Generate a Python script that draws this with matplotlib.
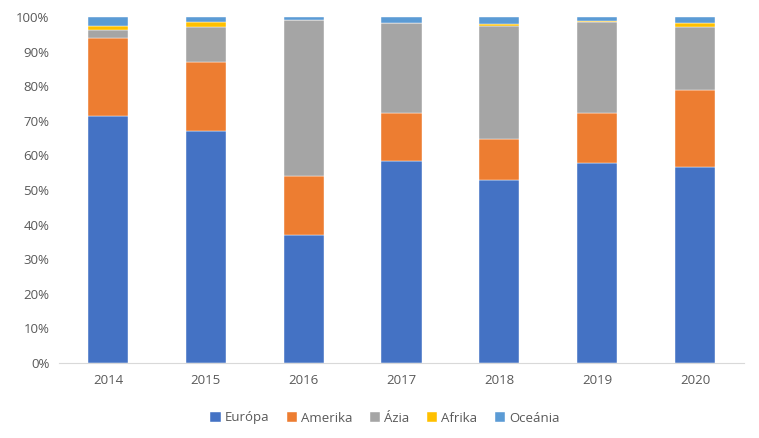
import numpy as np
import matplotlib
matplotlib.use('Agg')
import matplotlib.pyplot as plt
from matplotlib.ticker import PercentFormatter

years = ['2014', '2015', '2016', '2017', '2018', '2019', '2020']
europa = [71.4, 67.1, 37.0, 58.4, 52.9, 57.8, 56.6]
amerika = [22.4, 20.0, 17.0, 13.9, 11.8, 14.5, 22.3]
azia = [2.3, 10.1, 45.0, 26.0, 32.8, 26.3, 18.3]
afrika = [1.4, 1.3, 0.1, 0.0, 0.4, 0.2, 1.2]
oceania = [2.5, 1.5, 0.9, 1.7, 2.1, 1.2, 1.6]

series = [('Európa', europa, '#4472C4'),
          ('Amerika', amerika, '#ED7D31'),
          ('Ázia', azia, '#A5A5A5'),
          ('Afrika', afrika, '#FFC000'),
          ('Oceánia', oceania, '#5B9BD5')]

plt.rcParams['font.family'] = ['Open Sans', 'DejaVu Sans']
fig = plt.figure(figsize=(7.59, 4.38), dpi=100)
ax = fig.add_axes([59/759, 75/438, 685/759, 346/438])

x = np.arange(len(years))
bottom = np.zeros(len(years))
for name, vals, col in series:
    v = np.array(vals)
    ax.bar(x, v, 0.41, bottom=bottom, color=col, label=name, edgecolor='white', linewidth=0.3)
    bottom += v

ax.set_xlim(-0.5, len(years) - 0.5)
ax.set_ylim(0, 100)
ax.set_yticks(range(0, 101, 10))
ax.yaxis.set_major_formatter(PercentFormatter(decimals=0))
ax.set_xticks(x)
ax.set_xticklabels(years)
for s in ['top', 'right', 'left']:
    ax.spines[s].set_visible(False)
ax.spines['bottom'].set_color('#D9D9D9')
ax.tick_params(axis='both', length=0, colors='#595959', labelsize=9.5)
ax.tick_params(axis='y', pad=7)
ax.tick_params(axis='x', pad=8)

fig.legend(loc='center', bbox_to_anchor=(385/759, 1 - 418/438), ncol=5, frameon=False,
           fontsize=9.5, handlelength=0.8, handleheight=0.8, handletextpad=0.3,
           columnspacing=1.3, labelcolor='#595959')

fig.savefig('out.png', dpi=100)
